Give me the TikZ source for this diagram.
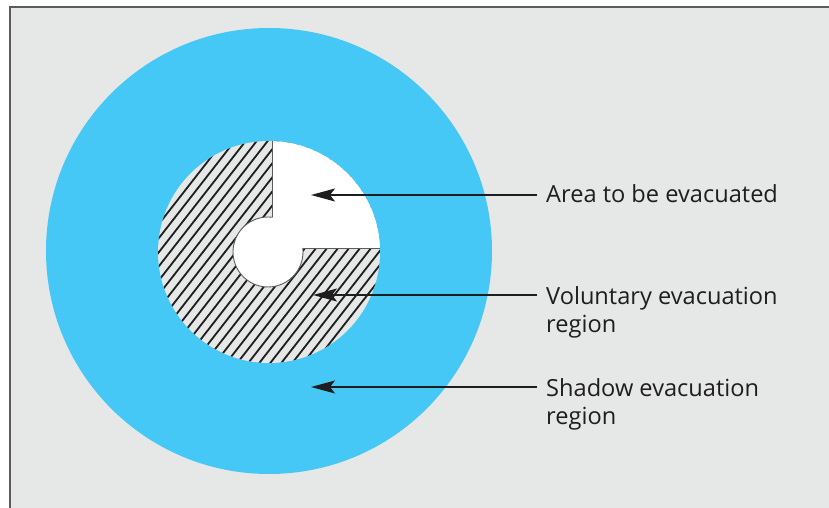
\documentclass[tikz,border=0pt]{standalone}
\usepackage{fontspec}
\setmainfont{Open Sans}
\usetikzlibrary{arrows.meta}
\definecolor{colBg}{HTML}{E6E7E7}
\definecolor{colFrame}{HTML}{5C5C5C}
\definecolor{colShadow}{HTML}{45C8F5}
\definecolor{colInk}{HTML}{1E1E1E}
\tikzset{
  lbl/.style={anchor=base west,align=left,inner xsep=9pt,inner ysep=0pt,
    font=\fontsize{23.6}{28}\selectfont,text=colInk},
  evarr/.style={-{Stealth[length=24pt,width=13pt,inset=5pt]},line width=1.4pt,draw=colInk},
  hatch/.style={line width=1.8pt,draw=colInk},
  zonerim/.style={line width=0.9pt,draw=colFrame},
}

\begin{document}
\begin{tikzpicture}[x=1pt,y=1pt]
  \useasboundingbox (0,0) rectangle (829,508);
  \fill[colBg] (10,0) rectangle (829,501);
  \draw[colFrame,line width=2pt] (10,0) -- (10,501) -- (829,501);
  % shadow and voluntary zones
  \fill[colShadow] (269,257) circle (223);
  \fill[colBg] (269,256) circle (111);
  \begin{scope}
    \clip (269,256) circle (111);
    \foreach \i in {-16,...,16}
      \draw[hatch] (269+\i*11,256) ++(232:170) -- ++(52:340);
    \fill[white] (272.5,260) rectangle (400,400);
    \draw[zonerim] (272.5,400) -- (272.5,260) -- (400,260);
  \end{scope}
  % evacuated core
  \fill[white] (268,256) circle (35);
  \draw[zonerim] (268,256) ++(82.6:35) arc[start angle=82.6,end angle=366.6,radius=35];
  % labels
  \node[lbl] (area) at (537,305) {Area to be evacuated};
  \node[lbl] (volun) at (537,175) {Voluntary evacuation\\region};
  \node[lbl] (shadow) at (537,83) {Shadow evacuation\\region};
  \coordinate (areaTip) at (311,313);
  \coordinate (volunTip) at (313,213);
  \coordinate (shadowTip) at (311,121);
  \draw[evarr] (area.west |- areaTip) -- (areaTip);
  \draw[evarr] (volun.west |- volunTip) -- (volunTip);
  \draw[evarr] (shadow.west |- shadowTip) -- (shadowTip);
\end{tikzpicture}
\end{document}
